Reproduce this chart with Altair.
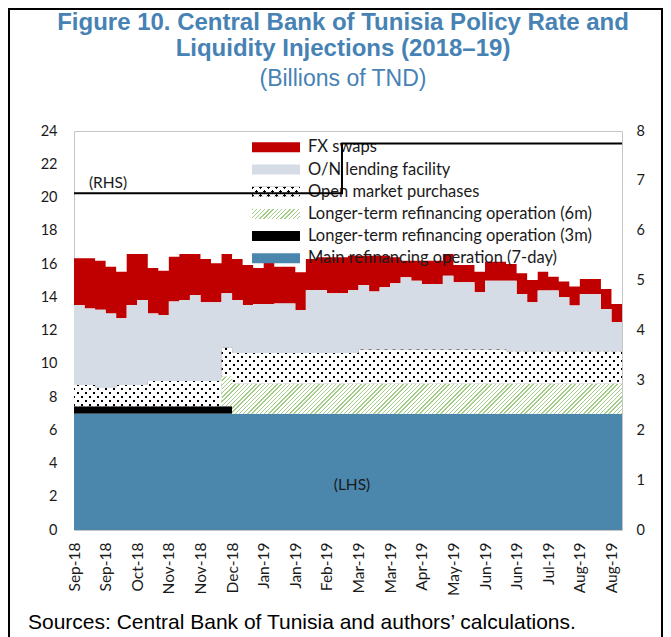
import altair as alt
import pandas as pd

# ------------------------------------------------------------------ data
dates = pd.date_range("2018-09-01", periods=53, freq="7D").strftime("%Y-%m-%d").tolist()

FX = "FX swaps"
ONL = "O/N lending facility"
OMP = "Open market purchases"
LT6 = "Longer-term refinancing operation (6m)"
LT3 = "Longer-term refinancing operation (3m)"
MRO = "Main refinancing operation (7-day)"
series_names = [FX, ONL, OMP, LT6, LT3, MRO]
series_colors = ["#c00000", "#d6dce5", "#000000", "#ffffff", "#000000", "#4b87ad"]

main_refi = [7.0] * 53
lt_3m = [0.45] * 15 + [0.0] * 38
lt_6m = [0.0] * 14 + [1.8] * 39
omp = [1.27] * 2 + [1.09] * 2 + [1.27] * 3 + [1.51] * 7 + [1.72] + [1.85] * 12 + [2.05] * 14 + [1.95] * 12
on_lending = [
    4.81, 4.61, 4.71, 4.49, 4.01, 4.81, 5.11, 4.07, 3.97, 4.78,
    4.87, 5.18, 4.74, 4.74, 3.27, 3.18, 2.88, 2.95, 2.95, 2.98,
    2.98, 2.58, 3.79, 3.79, 3.59, 3.59, 3.79, 3.89, 3.49, 3.75,
    3.99, 4.35, 4.15, 3.95, 3.95, 4.45, 4.05, 4.05, 3.45, 4.15,
    4.15, 4.25, 3.45, 2.95, 3.65, 3.65, 3.25, 2.75, 3.45, 3.45,
    2.55, 1.75, 1.75,
]
fx_swaps = [
    2.81, 3.01, 2.95, 2.81, 2.81, 3.07, 2.77, 2.73, 2.67, 2.70,
    2.77, 2.46, 2.60, 2.34, 2.36, 2.47, 2.41, 2.16, 2.50, 2.21,
    2.21, 2.27, 1.86, 1.96, 2.16, 2.16, 2.06, 1.76, 2.16, 1.90,
    1.56, 1.00, 1.20, 1.40, 1.40, 1.30, 1.04, 1.04, 1.24, 1.14,
    1.14, 1.00, 1.24, 1.34, 1.14, 0.84, 0.94, 1.14, 0.90, 0.90,
    1.20, 1.10, 1.10,
]

rate_dates = ["2018-09-01", "2019-02-26", "2019-08-31"]
policy_rate = [6.75, 7.75, 7.75]

tick_dates = pd.date_range("2018-09-01", periods=18, freq="21D")
tick_ms = [int(t.timestamp() * 1000) for t in tick_dates]
domain_ms = [int(pd.Timestamp("2018-09-01").timestamp() * 1000),
             int(pd.Timestamp("2019-08-31").timestamp() * 1000)]

left_ticks = list(range(0, 25, 2))
right_ticks = list(range(0, 9))

# ------------------------------------------------------------------ tables
values_by_series = {FX: fx_swaps, ONL: on_lending, OMP: omp, LT6: lt_6m, LT3: lt_3m, MRO: main_refi}
stack_rank = {name: i for i, name in enumerate(reversed(series_names))}
rows = []
for name, vals in values_by_series.items():
    for d, v in zip(dates, vals):
        rows.append({"date": d, "series": name, "value": v, "ord": stack_rank[name]})
df = pd.DataFrame(rows)
rate_df = pd.DataFrame({"date": rate_dates, "rate": policy_rate})
legend_df = pd.DataFrame({"series": series_names})

# ------------------------------------------------------------------ styles
LABEL_FONT = "Lato"
TITLE_FONT = "Liberation Sans"
TITLE_COLOR = "#4682b4"
CLEAR = "rgba(255,255,255,0)"
SWATCH = "M-1,-0.2083L1,-0.2083L1,0.2083L-1,0.2083Z"


def stripe_fill(w, h, period, frac, line_color, bg_color, rising=True):
    total = w + h
    r = h / w
    s = total / (w * (1 + r * r))
    stops = []
    pos = 0.0
    while pos < total:
        a = round(pos / total, 5)
        b = round(min((pos + frac * period) / total, 1.0), 5)
        c = round(min((pos + period) / total, 1.0), 5)
        stops += [alt.GradientStop(offset=a, color=line_color),
                  alt.GradientStop(offset=b, color=line_color),
                  alt.GradientStop(offset=b, color=bg_color),
                  alt.GradientStop(offset=c, color=bg_color)]
        pos += period
    if rising:
        x1, y1, x2, y2 = 0, 0, s, s * r
    else:
        x1, y1, x2, y2 = 0, 1, s, 1 - s * r
    return alt.LinearGradient(gradient="linear", stops=stops, x1=x1, y1=y1, x2=x2, y2=y2)


GREEN_LINE = "#a3cd86"
green_band = stripe_fill(400.5, 37.4, 4.2, 0.34, GREEN_LINE, "#ffffff", True)
dots_a = stripe_fill(548, 58.5, 8.0, 0.36, CLEAR, "#ffffff", True)
dots_b = stripe_fill(548, 58.5, 8.0, 0.36, CLEAR, "#ffffff", False)
green_sw = stripe_fill(48, 10, 4.2, 0.34, GREEN_LINE, "#ffffff", True)
dots_sw_a = stripe_fill(48, 10, 8.0, 0.36, CLEAR, "#ffffff", True)
dots_sw_b = stripe_fill(48, 10, 8.0, 0.36, CLEAR, "#ffffff", False)

axis_common = dict(domain=False, ticks=False, grid=False, labelFont=LABEL_FONT,
                   labelColor="#1a1a1a", labelOverlap=False)

x_enc = alt.X(
    "date:T", title=None,
    scale=alt.Scale(type="utc", domain=domain_ms),
    axis=alt.Axis(values=tick_ms, labelExpr="utcFormat(datum.value, '%b-%y')",
                  labelAngle=270, labelAlign="right", labelBaseline="middle",
                  labelPadding=12, labelFlush=False, labelFontSize=15.5, **axis_common),
)
y_left = alt.Y("y1:Q", title=None, scale=alt.Scale(domain=[0, 24], nice=False),
               axis=alt.Axis(orient="left", values=left_ticks, labelPadding=17,
                             labelFontSize=14.5, **axis_common))
y_plain = alt.Y("y1:Q", scale=alt.Scale(domain=[0, 24], nice=False), axis=None)
color_scale = alt.Scale(domain=series_names, range=series_colors)

stacked = alt.Chart(df).transform_stack(
    stack="value", groupby=["date"], as_=["y0", "y1"],
    sort=[alt.SortField(field="ord", order="ascending")],
)

areas = stacked.mark_area(interpolate="step-after", strokeWidth=0).encode(
    x=x_enc, y=y_left, y2="y0:Q",
    color=alt.Color("series:N", scale=color_scale, legend=None),
)

green_overlay = stacked.transform_filter(alt.datum.series == LT6).transform_filter(
    alt.datum.value > 0
).mark_area(interpolate="step-after", fill=green_band, opacity=1).encode(
    x=x_enc, y=y_plain, y2="y0:Q")

omp_a = stacked.transform_filter(alt.datum.series == OMP).mark_area(
    interpolate="step-after", fill=dots_a, opacity=1).encode(x=x_enc, y=y_plain, y2="y0:Q")
omp_b = stacked.transform_filter(alt.datum.series == OMP).mark_area(
    interpolate="step-after", fill=dots_b, opacity=1).encode(x=x_enc, y=y_plain, y2="y0:Q")

rate_line = alt.Chart(rate_df).mark_line(
    interpolate="step-after", color="#000000", strokeWidth=2).encode(
    x=x_enc,
    y=alt.Y("rate:Q", title=None, scale=alt.Scale(domain=[0, 8], nice=False),
            axis=alt.Axis(orient="right", values=right_ticks, labelPadding=14,
                          labelFontSize=14.5, **axis_common)),
)

# ------------------------------------------------------------------ legend (manual)
leg_y = alt.Y("series:N", scale=alt.Scale(type="point", domain=series_names,
                                          range=[16.3, 127.3], padding=0), axis=None)
SW_X = 202
leg_base = alt.Chart(legend_df).mark_point(
    shape=SWATCH, size=2304, filled=True, opacity=1, strokeWidth=0).encode(
    x=alt.value(SW_X), y=leg_y, color=alt.Color("series:N", scale=color_scale, legend=None))
leg_green = alt.Chart(legend_df).transform_filter(alt.datum.series == LT6).mark_point(
    shape=SWATCH, size=2304, filled=True, opacity=1, strokeWidth=0, fill=green_sw).encode(
    x=alt.value(SW_X), y=leg_y)
leg_da = alt.Chart(legend_df).transform_filter(alt.datum.series == OMP).mark_point(
    shape=SWATCH, size=2304, filled=True, opacity=1, strokeWidth=0, fill=dots_sw_a).encode(
    x=alt.value(SW_X), y=leg_y)
leg_db = alt.Chart(legend_df).transform_filter(alt.datum.series == OMP).mark_point(
    shape=SWATCH, size=2304, filled=True, opacity=1, strokeWidth=0, fill=dots_sw_b).encode(
    x=alt.value(SW_X), y=leg_y)
leg_text = alt.Chart(legend_df).mark_text(
    align="left", baseline="middle", font=LABEL_FONT, fontSize=16.5, color="#1a1a1a").encode(
    x=alt.value(234), y=leg_y, text="series:N")


# ------------------------------------------------------------------ texts
def note(text, x, y, size, font=LABEL_FONT, weight="normal", color="#1a1a1a",
         align="center", baseline="middle"):
    return alt.Chart(pd.DataFrame({"t": [text]})).mark_text(
        font=font, fontSize=size, fontWeight=weight, color=color,
        align=align, baseline=baseline).encode(
        x=alt.value(x), y=alt.value(y), text="t:N")


rhs = note("(RHS)", 34, 52, 15.5)
lhs = note("(LHS)", 278, 354, 15.5)
t1 = note("Figure 10. Central Bank of Tunisia Policy Rate and", 269, -101, 24,
          font=TITLE_FONT, weight="bold", color=TITLE_COLOR, baseline="alphabetic")
t2 = note("Liquidity Injections (2018\u201319)", 269, -75, 24,
          font=TITLE_FONT, weight="bold", color=TITLE_COLOR, baseline="alphabetic")
t3 = note("(Billions of TND)", 269, -45, 23, font=TITLE_FONT, color=TITLE_COLOR,
          baseline="alphabetic")
src = note("Sources: Central Bank of Tunisia and authors\u2019 calculations.", -46, 498, 21,
           font=TITLE_FONT, color="#000000", align="left", baseline="alphabetic")

border = alt.Chart(pd.DataFrame({"a": [0]})).mark_rect(
    fillOpacity=0, stroke="#000000", strokeWidth=2).encode(
    x=alt.value(-65), x2=alt.value(588), y=alt.value(-122), y2=alt.value(540))

chart = alt.layer(
    areas, green_overlay, omp_a, omp_b,
    leg_base, leg_green, leg_da, leg_db, leg_text,
    rate_line, rhs, lhs, t1, t2, t3, src, border,
).resolve_scale(y="independent").properties(
    width=548, height=399,
    autosize=alt.AutoSizeParams(type="none"),
    padding={"left": 66, "top": 123, "right": 41, "bottom": 107},
).configure_view(stroke="#c6c6c6", strokeWidth=1)

chart.save("out.html", embed_options={"renderer": "svg", "actions": False})
